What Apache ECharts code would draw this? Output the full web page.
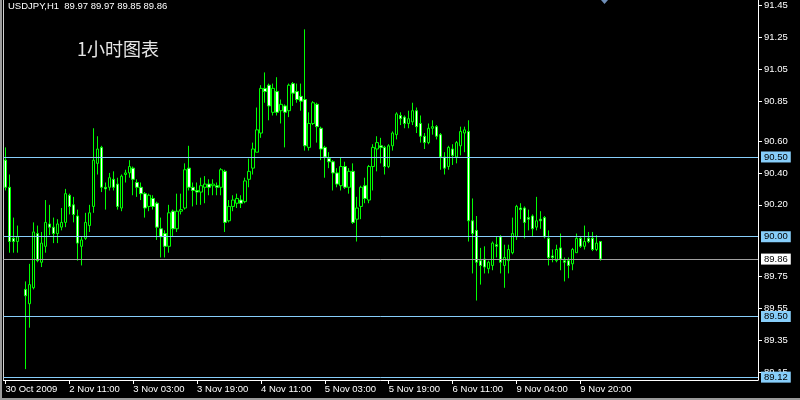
<!DOCTYPE html>
<html><head><meta charset="utf-8">
<script src="https://cdn.jsdelivr.net/npm/echarts@6/dist/echarts.min.js"></script>
<style>html,body{margin:0;padding:0;background:#000;}#c{width:800px;height:400px;}</style>
</head><body><div id="c"></div>
<script>
const symbolName = 'USDJPY,H1';
const chartNote = '1小时图表';

const opens = [90.48,90.31,89.99,89.97,null,89.67,89.58,89.68,90.02,89.84,
89.94,90.08,90.06,90.02,90.06,90.09,90.26,90.20,90.13,89.94,
89.99,90.07,90.19,90.46,90.56,90.31,90.31,90.36,90.33,90.18,
90.39,90.40,90.43,90.34,90.31,90.27,90.19,90.24,90.21,90.05,
90.02,89.94,90.16,90.05,90.16,90.18,90.43,90.31,90.29,90.28,
90.31,90.33,90.32,90.32,90.31,90.41,90.10,90.19,90.21,90.23,
90.22,90.36,90.43,90.53,90.65,90.93,90.95,90.78,90.91,90.79,
90.82,90.79,90.96,90.91,90.88,90.86,90.56,90.71,90.83,90.68,
90.56,90.49,90.47,90.40,90.32,90.44,90.31,90.41,90.11,90.19,
90.32,90.23,90.44,90.55,90.57,90.56,90.44,90.57,90.64,90.76,
90.75,90.71,90.72,90.79,90.71,90.63,90.59,90.68,90.69,90.64,
90.50,90.44,90.55,90.50,90.57,90.65,90.66,90.10,90.04,89.85,
89.86,89.80,89.82,89.95,90.00,89.82,89.85,89.90,90.00,90.18,
90.18,90.12,90.13,90.06,90.11,90.12,89.99,89.88,89.85,89.93,
89.85,89.85,89.83,89.90,89.99,89.94,89.99,89.99,89.92,89.97];
const closes = [90.31,89.97,89.97,90.00,null,89.63,89.70,90.03,89.85,89.96,
90.09,90.06,90.02,90.08,90.09,90.27,90.19,90.14,89.96,89.98,
90.09,90.15,90.48,90.55,90.31,90.30,90.37,90.31,90.19,90.38,
90.40,90.44,90.36,90.31,90.27,90.18,90.26,90.19,90.06,90.00,
89.94,90.15,90.05,90.16,90.17,90.42,90.31,90.29,90.28,90.32,
90.33,90.31,90.33,90.31,90.42,90.09,90.19,90.23,90.24,90.21,
90.35,90.41,90.55,90.67,90.93,90.91,90.82,90.93,90.78,90.83,
90.78,90.95,90.90,90.86,90.85,90.57,90.71,90.84,90.69,90.55,
90.50,90.47,90.40,90.33,90.44,90.31,90.41,90.09,90.18,90.31,
90.24,90.44,90.56,90.59,90.56,90.44,90.57,90.65,90.77,90.74,
90.71,90.74,90.79,90.69,90.63,90.59,90.68,90.69,90.63,90.50,
90.43,90.56,90.51,90.59,90.66,90.67,90.10,90.02,89.84,89.82,
89.81,89.84,89.96,89.94,89.84,89.87,89.92,90.02,90.19,90.17,
90.09,90.11,90.05,90.10,90.10,90.00,89.87,89.87,89.92,89.86,
89.84,89.82,89.92,89.99,89.94,89.97,89.97,89.92,89.96,89.86];
const lows = [90.29,89.90,89.90,89.90,null,89.17,89.43,89.67,89.84,89.81,
89.90,90.01,89.96,89.96,90.04,90.06,90.14,90.09,89.85,89.82,
89.98,90.03,90.15,90.39,90.28,90.17,90.29,90.29,90.17,90.16,
90.34,90.37,90.26,90.25,90.23,90.12,90.16,90.17,89.98,89.87,
89.87,89.90,90.00,90.03,90.14,90.17,90.29,90.19,90.20,90.20,
90.21,90.26,90.26,90.26,90.26,90.03,90.09,90.16,90.18,90.18,
90.21,90.31,90.39,90.53,90.62,90.84,90.73,90.76,90.76,90.71,
90.56,90.75,90.82,90.84,90.79,90.54,90.54,90.70,90.59,90.48,
90.37,90.43,90.29,90.31,90.29,90.30,90.27,90.08,89.97,90.11,
90.21,90.21,90.29,90.41,90.46,90.39,90.43,90.54,90.61,90.70,
90.68,90.68,90.70,90.65,90.59,90.55,90.58,90.64,90.61,90.42,
90.39,90.42,90.45,90.46,90.51,90.53,89.97,89.77,89.60,89.70,
89.77,89.77,89.79,89.87,89.77,89.68,89.77,89.89,89.98,90.11,
89.99,90.04,90.00,90.04,90.05,89.99,89.82,89.84,89.84,89.79,
89.72,89.74,89.79,89.90,89.93,89.92,89.96,89.91,89.91,89.85];
const highs = [90.56,90.39,90.12,90.07,null,89.72,89.83,90.09,90.07,90.03,
90.23,90.20,90.12,90.11,90.18,90.30,90.27,90.25,90.17,90.00,
90.15,90.20,90.68,90.63,90.57,90.34,90.40,90.41,90.37,90.39,
90.42,90.48,90.44,90.36,90.34,90.28,90.27,90.26,90.22,90.12,
90.04,90.20,90.17,90.27,90.27,90.46,90.57,90.34,90.34,90.37,
90.38,90.36,90.36,90.34,90.43,90.42,90.23,90.26,90.27,90.26,
90.37,90.49,90.59,90.81,90.95,91.03,90.96,90.96,91.00,90.86,
90.83,90.96,90.97,90.96,90.96,91.30,90.78,90.85,90.84,90.69,
90.57,90.53,90.48,90.43,90.50,90.47,90.43,90.46,90.25,90.32,
90.37,90.45,90.58,90.63,90.62,90.57,90.58,90.66,90.78,90.78,
90.76,90.79,90.84,90.81,90.76,90.65,90.71,90.73,90.70,90.65,
90.53,90.57,90.58,90.60,90.69,90.69,90.73,90.24,90.13,89.93,
89.94,89.85,89.97,90.00,90.01,89.95,89.95,90.12,90.20,90.21,
90.19,90.17,90.14,90.25,90.16,90.13,90.04,89.92,89.95,90.02,
89.87,89.87,89.93,90.02,90.00,90.07,90.03,90.03,90.01,89.97];

const timeLabels = ['30 Oct 2009','2 Nov 11:00','3 Nov 03:00','3 Nov 19:00','4 Nov 11:00','5 Nov 03:00','5 Nov 19:00','6 Nov 11:00','9 Nov 04:00','9 Nov 20:00'];
const timeLabelBars = [0,16,32,48,64,80,96,112,128,144];
const priceTicks = [91.45,91.25,91.05,90.85,90.60,90.40,90.20,89.75,89.55,89.35,89.15];
const levelLines = [90.50,90.00,89.50,89.12];
const bidLine = 89.86;
const priceMin = 89.102, priceMax = 91.484;
const totalSlots = 189;

const categories = new Array(totalSlots).fill('');
timeLabelBars.forEach((b,i)=>{ categories[b] = timeLabels[i]; });

const candleData = opens.map((o,i)=> o==null ? ['-','-','-','-'] : [o, closes[i], lows[i], highs[i]]);
const last = opens.length-1;
const header = symbolName + '  ' + [opens[last],highs[last],lows[last],closes[last]].map(v=>v.toFixed(2)).join(' ');

const FONT = 'Liberation Sans, Arial, sans-serif';
const blueLine = '#87cefa';

const mlData = levelLines.map(v=>({
  yAxis: v,
  lineStyle:{color: blueLine, width:1, type:'solid'},
  label:{backgroundColor: blueLine, color:'#000'}
}));
mlData.push({
  yAxis: bidLine,
  lineStyle:{color:'#a0a0a0', width:1, type:'solid'},
  label:{backgroundColor:'#ffffff', color:'#000'}
});

const chart = echarts.init(document.getElementById('c'), null, {renderer:'canvas'});
chart.setOption({
  backgroundColor:'#000',
  animation:false,
  title:[
    {text: header, left:8, top:1, padding:0,
     textStyle:{color:'#fff', fontSize:9.5, fontWeight:'normal', fontFamily:FONT}},
    {text: chartNote, left:77, top:40, padding:0,
     textStyle:{color:'#e6e6e6', fontSize:18, fontWeight:'normal', fontFamily:'Noto Sans CJK SC'}}
  ],
  grid:{left:3.5, top:0, width:754.5, height:380, containLabel:false},
  xAxis:{
    type:'category', data:categories, boundaryGap:true,
    axisLine:{show:true, lineStyle:{color:'#ffffff', width:1}},
    axisTick:{show:true, alignWithLabel:true, length:4, interval:(i,v)=>v!=='', lineStyle:{color:'#ffffff'}},
    axisLabel:{show:true, interval:(i,v)=>v!=='', align:'left', margin:4, color:'#ffffff', fontSize:9.5, fontFamily:FONT},
    splitLine:{show:false}
  },
  yAxis:[{
    type:'value', position:'right', min:priceMin, max:priceMax, scale:true,
    axisLine:{show:true, lineStyle:{color:'#ffffff', width:1}},
    axisTick:{show:true, length:4, customValues:priceTicks, lineStyle:{color:'#ffffff'}},
    axisLabel:{show:true, customValues:priceTicks, margin:6, color:'#ffffff', fontSize:9.5, fontFamily:FONT,
      formatter:v=>Number(v).toFixed(2)},
    splitLine:{show:false}
  },{
    type:'value', position:'left', min:priceMin, max:priceMax,
    axisLine:{show:true, lineStyle:{color:'#d0d0d0', width:1}},
    axisTick:{show:false}, axisLabel:{show:false}, splitLine:{show:false}
  }],
  series:[{
    type:'candlestick',
    data:candleData,
    barWidth:3,
    itemStyle:{color:'#000000', color0:'#ffffff', borderColor:'#00ff00', borderColor0:'#00ff00', borderWidth:1},
    markLine:{
      silent:true, symbol:'none', animation:false,
      label:{show:true, position:'end', distance:3, padding:[0,3,0,3], fontSize:9.5, lineHeight:11,
        fontFamily:FONT, formatter:p=>Number(p.value).toFixed(2)},
      data: mlData
    }
  }],
  graphic:[
    {type:'rect', shape:{x:0,y:0,width:2,height:400}, style:{fill:'#9a9a9a'}, silent:true},
    {type:'rect', shape:{x:0,y:398,width:800,height:2}, style:{fill:'#9a9a9a'}, silent:true},
    {type:'polygon', shape:{points:[[601,0],[608,0],[604.5,4]]}, style:{fill:'#6f8fb8'}, silent:true}
  ]
});
</script>
</body></html>
